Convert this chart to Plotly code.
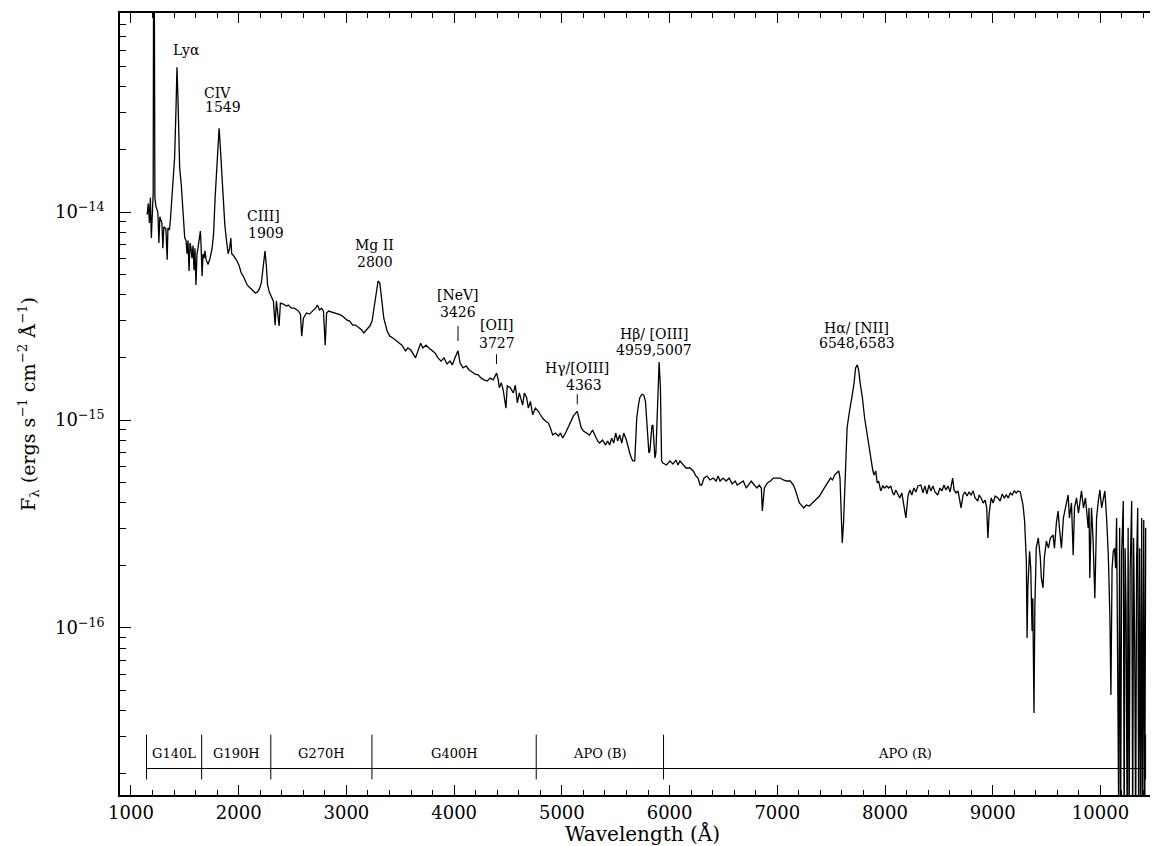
import math
import plotly.graph_objects as go

# ---------------- data ----------------
wavelength = [
    1150, 1161, 1171, 1180, 1189, 1198, 1206, 1210, 1216, 1222, 1231, 1250, 1259, 1268, 1287, 1296,
    1305, 1324, 1336, 1343, 1357, 1366, 1374, 1390, 1405, 1418, 1427, 1436, 1452, 1467, 1483, 1499,
    1511, 1520, 1529, 1539, 1548, 1557, 1566, 1576, 1585, 1594, 1603, 1613, 1622, 1631, 1644, 1650,
    1660, 1669, 1678, 1687, 1697, 1716, 1734, 1753, 1767, 1781, 1793, 1804, 1818, 1827, 1840, 1856,
    1871, 1884, 1902, 1916, 1927, 1935, 1949, 1967, 1986, 2005, 2023, 2042, 2061, 2079, 2098, 2117,
    2135, 2154, 2173, 2191, 2210, 2229, 2244, 2257, 2268, 2284, 2306, 2322, 2338, 2350, 2375, 2387,
    2415, 2443, 2461, 2489, 2517, 2555, 2573, 2585, 2601, 2629, 2657, 2685, 2713, 2731, 2750, 2769,
    2787, 2803, 2816, 2834, 2862, 2890, 2918, 2946, 2974, 3002, 3030, 3058, 3086, 3114, 3142, 3161,
    3189, 3217, 3238, 3254, 3273, 3294, 3310, 3331, 3347, 3378, 3403, 3431, 3459, 3487, 3515, 3549,
    3570, 3598, 3617, 3642, 3664, 3689, 3710, 3738, 3766, 3794, 3822, 3850, 3878, 3906, 3934, 3962,
    3983, 4008, 4036, 4055, 4083, 4111, 4139, 4167, 4195, 4223, 4251, 4279, 4307, 4335, 4363, 4394,
    4410, 4419, 4438, 4456, 4481, 4493, 4521, 4549, 4568, 4587, 4605, 4636, 4652, 4673, 4689, 4708,
    4729, 4754, 4782, 4801, 4822, 4847, 4875, 4894, 4915, 4940, 4968, 4987, 5008, 5034, 5062, 5087,
    5109, 5143, 5164, 5180, 5201, 5229, 5257, 5285, 5313, 5332, 5350, 5378, 5406, 5425, 5444, 5462,
    5481, 5500, 5518, 5537, 5556, 5574, 5599, 5612, 5630, 5646, 5658, 5677, 5686, 5695, 5707, 5723,
    5744, 5760, 5776, 5788, 5801, 5808, 5817, 5826, 5836, 5845, 5854, 5864, 5873, 5882, 5892, 5903,
    5915, 5926, 5938, 5972, 6003, 6031, 6059, 6078, 6096, 6124, 6152, 6190, 6220, 6245, 6264, 6283,
    6298, 6320, 6348, 6376, 6404, 6432, 6450, 6469, 6497, 6525, 6553, 6581, 6609, 6628, 6656, 6684,
    6712, 6731, 6758, 6786, 6811, 6832, 6852, 6861, 6880, 6908, 6936, 6964, 6997, 7028, 7056, 7084,
    7121, 7149, 7168, 7184, 7205, 7224, 7245, 7270, 7298, 7326, 7354, 7370, 7392, 7420, 7448, 7476,
    7494, 7513, 7532, 7550, 7571, 7582, 7592, 7603, 7615, 7634, 7648, 7665, 7680, 7696, 7713, 7727,
    7743, 7755, 7769, 7790, 7811, 7839, 7867, 7886, 7898, 7914, 7928, 7941, 7960, 7979, 7998, 8016,
    8035, 8053, 8072, 8084, 8100, 8119, 8137, 8156, 8178, 8194, 8213, 8231, 8249, 8268, 8287, 8305,
    8333, 8352, 8370, 8389, 8408, 8426, 8445, 8464, 8489, 8510, 8529, 8547, 8566, 8585, 8604, 8628,
    8641, 8659, 8678, 8706, 8725, 8743, 8762, 8780, 8799, 8818, 8836, 8861, 8874, 8892, 8911, 8930,
    8944, 8955, 8967, 8986, 9004, 9023, 9048, 9069, 9088, 9107, 9126, 9144, 9163, 9181, 9200, 9219,
    9235, 9256, 9281, 9296, 9312, 9319, 9326, 9342, 9353, 9365, 9372, 9383, 9391, 9404, 9423, 9442,
    9451, 9467, 9479, 9498, 9517, 9535, 9560, 9573, 9591, 9607, 9619, 9638, 9656, 9675, 9700, 9712,
    9731, 9747, 9759, 9778, 9796, 9824, 9843, 9861, 9886, 9894, 9901, 9917, 9931, 9948, 9964, 9978,
    9995, 10011, 10025, 10041, 10057, 10073, 10088, 10097, 10108, 10119, 10131, 10141, 10150, 10159, 10169, 10178,
    10187, 10197, 10212, 10220, 10229, 10238, 10248, 10257, 10266, 10276, 10290, 10299, 10308, 10318, 10327, 10336,
    10346, 10355, 10364, 10374, 10383, 10392, 10402, 10411, 10420,
]

# flux in units of 1e-15 ergs s^-1 cm^-2 A^-1
flux_e15 = [
    9.7, 11.0, 8.85, 11.7, 7.5, 11.0, 12.3, 160, 160, 11.7, 10.7, 9.9, 7.1, 9.5, 8.85, 6.7,
    8.5, 8.3, 5.9, 8.38, 8.2, 9.2, 10.4, 13.8, 18.2, 31.6, 49.6, 35.3, 16.3, 13.5, 9.9, 7.5,
    7.3, 6.3, 7.3, 5.2, 7.1, 6.7, 6.0, 6.9, 5.25, 6.7, 4.46, 6.3, 6.7, 7.3, 8.1, 7.1,
    4.92, 6.3, 6.0, 6.5, 5.9, 5.6, 6.0, 6.7, 7.9, 11.7, 15.1, 20.3, 25.3, 21.5, 16.3, 11.0,
    8.7, 7.5, 6.3, 6.7, 7.5, 6.3, 6.2, 6.0, 5.8, 5.5, 5.1, 4.92, 4.71, 4.46, 4.36, 4.26,
    4.17, 4.08, 4.12, 4.26, 4.56, 5.5, 6.49, 5.5, 4.46, 4.12, 3.86, 3.73, 2.86, 3.73, 2.83, 3.65,
    3.61, 3.53, 3.57, 3.45, 3.45, 3.34, 3.23, 2.53, 3.09, 3.27, 3.23, 3.34, 3.45, 3.57, 3.38, 3.45,
    3.34, 2.29, 3.27, 3.34, 3.31, 3.27, 3.23, 3.20, 3.13, 3.03, 2.99, 2.86, 2.86, 2.77, 2.71, 2.62,
    2.71, 2.83, 2.99, 3.45, 4.08, 4.66, 4.56, 3.53, 3.09, 2.68, 2.53, 2.48, 2.42, 2.34, 2.29, 2.15,
    2.22, 2.17, 2.10, 1.99, 2.15, 2.34, 2.22, 2.29, 2.22, 2.15, 2.10, 1.99, 1.92, 1.99, 1.86, 1.92,
    1.84, 1.99, 2.15, 1.88, 1.78, 1.82, 1.74, 1.70, 1.66, 1.65, 1.59, 1.56, 1.54, 1.59, 1.56, 1.68,
    1.56, 1.43, 1.51, 1.39, 1.14, 1.46, 1.43, 1.35, 1.47, 1.21, 1.35, 1.18, 1.35, 1.28, 1.14, 1.23,
    1.06, 1.14, 1.10, 1.06, 1.02, 0.99, 0.967, 0.916, 0.847, 0.866, 0.838, 0.866, 0.819, 0.866, 0.936, 0.99,
    1.05, 1.10, 0.99, 0.916, 0.885, 0.866, 0.847, 0.895, 0.838, 0.793, 0.775, 0.801, 0.758, 0.793, 0.758, 0.819,
    0.775, 0.866, 0.793, 0.847, 0.775, 0.866, 0.801, 0.75, 0.694, 0.657, 0.636, 0.636, 0.819, 1.02, 1.14, 1.28,
    1.33, 1.32, 1.23, 0.967, 0.793, 0.694, 0.709, 0.819, 0.936, 0.946, 0.734, 0.657, 0.694, 0.916, 1.43, 1.90,
    1.43, 0.636, 0.621, 0.608, 0.636, 0.614, 0.642, 0.608, 0.636, 0.608, 0.588, 0.588, 0.569, 0.538, 0.526, 0.487,
    0.487, 0.526, 0.538, 0.515, 0.526, 0.509, 0.538, 0.509, 0.526, 0.509, 0.526, 0.493, 0.509, 0.487, 0.498, 0.509,
    0.471, 0.487, 0.509, 0.487, 0.471, 0.487, 0.471, 0.365, 0.471, 0.498, 0.509, 0.526, 0.526, 0.526, 0.515, 0.509,
    0.509, 0.487, 0.461, 0.436, 0.399, 0.390, 0.378, 0.390, 0.386, 0.399, 0.412, 0.422, 0.431, 0.456, 0.482, 0.509,
    0.526, 0.515, 0.544, 0.556, 0.569, 0.526, 0.338, 0.256, 0.320, 0.657, 0.916, 1.06, 1.21, 1.32, 1.51, 1.78,
    1.84, 1.74, 1.51, 1.28, 1.02, 0.819, 0.636, 0.575, 0.544, 0.569, 0.498, 0.509, 0.456, 0.482, 0.471, 0.482,
    0.471, 0.482, 0.446, 0.436, 0.461, 0.436, 0.422, 0.446, 0.378, 0.338, 0.431, 0.461, 0.436, 0.471, 0.451, 0.482,
    0.487, 0.446, 0.482, 0.441, 0.487, 0.456, 0.482, 0.451, 0.436, 0.471, 0.456, 0.487, 0.461, 0.482, 0.451, 0.526,
    0.461, 0.446, 0.456, 0.378, 0.436, 0.451, 0.431, 0.451, 0.436, 0.456, 0.422, 0.408, 0.436, 0.422, 0.399, 0.412,
    0.378, 0.271, 0.357, 0.422, 0.399, 0.431, 0.422, 0.408, 0.441, 0.422, 0.436, 0.422, 0.446, 0.436, 0.456, 0.446,
    0.456, 0.451, 0.390, 0.327, 0.210, 0.0895, 0.156, 0.234, 0.194, 0.0968, 0.139, 0.039, 0.125, 0.242, 0.271, 0.217,
    0.174, 0.156, 0.217, 0.262, 0.242, 0.271, 0.280, 0.242, 0.320, 0.365, 0.303, 0.242, 0.338, 0.378, 0.436, 0.338,
    0.399, 0.224, 0.378, 0.422, 0.357, 0.456, 0.378, 0.422, 0.303, 0.378, 0.174, 0.378, 0.271, 0.139, 0.338, 0.399,
    0.461, 0.378, 0.422, 0.456, 0.338, 0.224, 0.112, 0.0476, 0.194, 0.234, 0.242, 0.194, 0.338, 0.080, 0.0136, 0.303,
    0.0098, 0.230, 0.408, 0.0098, 0.242, 0.125, 0.0098, 0.303, 0.0098, 0.194, 0.408, 0.0098, 0.271, 0.080, 0.0098, 0.217,
    0.378, 0.0098, 0.242, 0.0098, 0.338, 0.0098, 0.331, 0.0098, 0.303,
]
flux = [v * 1e-15 for v in flux_e15]

# x tick labels
x_ticks = [1000, 2000, 3000, 4000, 5000, 6000, 7000, 8000, 9000, 10000]

# instrument / grating coverage bar
instr_names = ["G140L", "G190H", "G270H", "G400H", "APO (B)", "APO (R)"]
instr_edges = [1144, 1656, 2298, 3237, 4762, 5944, 10419]

# emission-line labels: (title, wavelength text)
line_titles = ["Ly&#945;", "CIV", "CIII]", "Mg II", "[NeV]", "[OII]", "H&#947;/[OIII]", "H&#946;/ [OIII]", "H&#945;/ [NII]"]
line_waves = ["", "1549", "1909", "2800", "3426", "3727", "4363", "4959,5007", "6548,6583"]

# ---------------- layout settings (positions) ----------------
title_pos = [(1511, -13.221), (1804, -13.428), (2229, -14.019), (3263, -14.159), (4037, -14.399),
             (4395, -14.543), (5145, -14.75), (5858, -14.587), (7737, -14.558)]
wave_pos = [None, (1856, -13.495), (2257, -14.101), (3263, -14.240), (4037, -14.481),
            (4395, -14.630), (5201, -14.832), (5858, -14.663), (7737, -14.630)]
marker_lines = [(4036, 2.83e-15, 2.40e-15), (4393, 2.07e-15, 1.86e-15), (5143, 1.33e-15, 1.19e-15)]
bar_level = 2.11e-17
bar_top, bar_bot = 3.07e-17, 1.87e-17
bar_label_level = -16.604

FONT = "DejaVu Serif"

fig = go.Figure()
fig.add_trace(go.Scatter(x=wavelength, y=flux, mode="lines",
                         line=dict(color="black", width=1.3), hoverinfo="skip"))

# instrument bar
fig.add_trace(go.Scatter(x=[instr_edges[0], instr_edges[-1]], y=[bar_level, bar_level], mode="lines",
                         line=dict(color="black", width=1), hoverinfo="skip"))
vx, vy = [], []
for e in instr_edges:
    vx += [e, e, None]
    vy += [bar_top, bar_bot, None]
fig.add_trace(go.Scatter(x=vx, y=vy, mode="lines", line=dict(color="black", width=1), hoverinfo="skip"))

# small line markers
mx, my = [], []
for w, y0, y1 in marker_lines:
    mx += [w, w, None]
    my += [y0, y1, None]
fig.add_trace(go.Scatter(x=mx, y=my, mode="lines", line=dict(color="black", width=1), hoverinfo="skip"))

annotations = []
for name, (lx, ly) in zip(line_titles, title_pos):
    annotations.append(dict(x=lx, y=ly, xref="x", yref="y", text=name, showarrow=False,
                            font=dict(family=FONT, size=14, color="black")))
for wv, pos in zip(line_waves, wave_pos):
    if pos is None:
        continue
    annotations.append(dict(x=pos[0], y=pos[1], xref="x", yref="y", text=wv, showarrow=False,
                            font=dict(family=FONT, size=14, color="black")))
for i, name in enumerate(instr_names):
    cx = 0.5 * (instr_edges[i] + instr_edges[i + 1])
    annotations.append(dict(x=cx, y=bar_label_level, xref="x", yref="y", text=name, showarrow=False,
                            font=dict(family=FONT, size=13, color="black")))

# x-axis title placed explicitly below the tick labels
annotations.append(dict(x=0.5, y=-0.049, xref="paper", yref="paper", xanchor="center", yanchor="middle",
                        text="Wavelength (Å)", showarrow=False,
                        font=dict(family=FONT, size=20, color="black")))

y_minor = [k * 10.0 ** e for e in (-17, -16, -15, -14) for k in range(2, 10)]

fig.update_layout(
    width=1158, height=846,
    margin=dict(l=112, r=2, t=5, b=59),
    plot_bgcolor="white", paper_bgcolor="white",
    showlegend=False,
    annotations=annotations,
    xaxis=dict(
        range=[898, 10590], tickmode="array", tickvals=x_ticks, ticktext=[str(v) for v in x_ticks],
        ticks="inside", ticklen=10, tickwidth=1.2, tickcolor="black",
        minor=dict(dtick=200, tick0=0, ticks="inside", ticklen=5, tickwidth=1, tickcolor="black"),
        showline=True, linecolor="black", linewidth=1.6, mirror="ticks",
        showgrid=False, zeroline=False, automargin=False,
        tickfont=dict(family=FONT, size=18, color="black"),
        ticklabelstandoff=1,
    ),
    yaxis=dict(
        type="log", range=[-16.803, -13.043],
        tickmode="array", tickvals=[1e-16, 1e-15, 1e-14],
        ticktext=["10<sup>−16</sup>", "10<sup>−15</sup>", "10<sup>−14</sup>"],
        ticks="inside", ticklen=11, tickwidth=1.2, tickcolor="black",
        minor=dict(tickvals=y_minor, ticks="inside", ticklen=6, tickwidth=1, tickcolor="black"),
        showline=True, linecolor="black", linewidth=1.6, mirror="ticks",
        showgrid=False, zeroline=False, automargin=False,
        tickfont=dict(family=FONT, size=18, color="black"),
        ticklabelstandoff=10,
        title=dict(text="F<sub>λ</sub> (ergs s<sup>−1</sup> cm<sup>−2</sup> Å<sup>−1</sup>)",
                   font=dict(family=FONT, size=19, color="black"), standoff=14),
    ),
)

fig.write_html("out.html")
